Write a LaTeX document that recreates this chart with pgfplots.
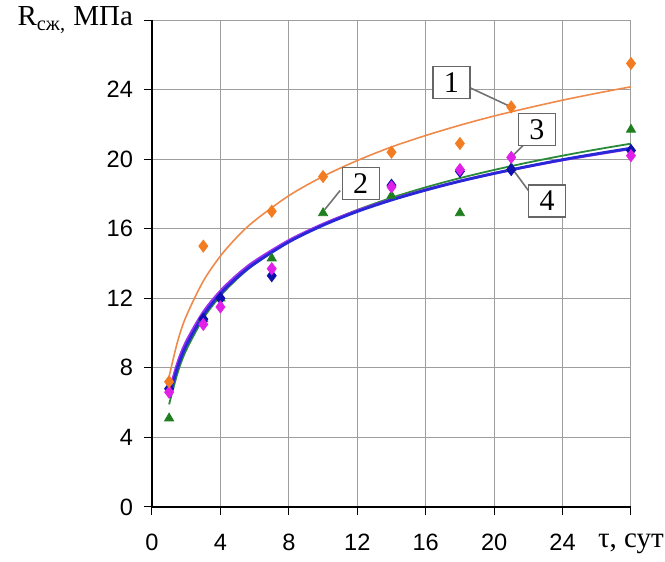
\documentclass[border=0pt]{standalone}
\usepackage{pgfplots}
\pgfplotsset{compat=1.18}
\usepackage{fontspec}
\setmainfont{Liberation Sans}
\newfontfamily\tms{Liberation Serif}
\definecolor{orngL}{HTML}{F08A4B}
\definecolor{orngM}{HTML}{F47C20}
\definecolor{grnL}{HTML}{2A8A3A}
\definecolor{grnM}{HTML}{1F7F1F}
\definecolor{magL}{HTML}{A030F0}
\definecolor{magM}{HTML}{E020E8}
\definecolor{bluL}{HTML}{2828D8}
\definecolor{bluM}{HTML}{1010B0}
\begin{document}
\begin{tikzpicture}
\useasboundingbox (-76pt,-27.5pt) rectangle (256.5pt,253.5pt);
\begin{axis}[
  scale only axis, width=239.5pt, height=243.5pt,
  xmin=0, xmax=28, ymin=0, ymax=28,
  xtick={0,4,...,28}, ytick={0,4,...,28},
  xticklabels={0,4,8,12,16,20,24,{\tms\fontsize{14.5}{16}\selectfont τ, сут}},
  yticklabels={0,4,8,12,16,20,24,{\tms\fontsize{14.5}{16}\selectfont R\textsubscript{сж,} МПа}},
  axis lines=left, axis line style={-, black, line width=0.6pt},
  grid=major, major grid style={black!38, line width=0.5pt},
  tick align=outside, major tick length=4pt,
  tick style={black, line width=0.5pt},
  ticklabel style={font=\fontsize{11.8}{13}\selectfont},
  xticklabel style={yshift=-6pt},
  yticklabel style={xshift=-2pt},
  clip=false,
]
% trend lines
\addplot[orngL, line width=0.8pt, smooth] coordinates {
 (1,7.5) (1.5,9.53) (2,10.97) (3,12.99) (4,14.43) (5,15.55) (6,16.46)
 (8,17.90) (10,19.01) (12,19.92) (14,20.70) (16,21.36) (18,21.95)
 (20,22.48) (22,22.95) (24,23.39) (26,23.79) (28,24.16)};
\addplot[grnL, line width=0.9pt, smooth] coordinates {
 (1,5.9) (1.5,7.72) (2,9.02) (3,10.84) (4,12.14) (5,13.14) (6,13.96)
 (8,15.26) (10,16.26) (12,17.08) (14,17.78) (16,18.38) (18,18.91)
 (20,19.38) (22,19.81) (24,20.20) (26,20.56) (28,20.89)};
\addplot[magL, line width=1.3pt, smooth] coordinates {
 (1,6.6) (1.5,8.30) (2,9.51) (3,11.21) (4,12.42) (5,13.36) (6,14.13)
 (8,15.33) (10,16.27) (12,17.04) (14,17.68) (16,18.24) (18,18.74)
 (20,19.18) (22,19.58) (24,19.95) (26,20.28) (28,20.60)};
\addplot[bluL, line width=1.4pt, smooth] coordinates {
 (1,6.3) (1.5,8.04) (2,9.28) (3,11.02) (4,12.26) (5,13.22) (6,14.00)
 (8,15.24) (10,16.20) (12,16.99) (14,17.65) (16,18.22) (18,18.73)
 (20,19.18) (22,19.59) (24,19.97) (26,20.31) (28,20.63)};
% measured points
\addplot[only marks, mark=triangle*, mark size=2.6pt, grnM] coordinates {
 (1,5.1) (3,10.8) (4,12.0) (7,14.3) (10,16.9) (14,17.9) (18,16.9) (21,19.5) (28,21.7)};
\addplot[only marks, mark=diamond*, mark size=3pt, bluM] coordinates {
 (1,6.8) (3,10.8) (4,12.0) (7,13.3) (14,18.5) (18,19.3) (21,19.4) (28,20.5)};
\addplot[only marks, mark=diamond*, mark size=3pt, magM] coordinates {
 (1,6.6) (3,10.5) (4,11.5) (7,13.7) (14,18.4) (18,19.4) (21,20.1) (28,20.2)};
\addplot[only marks, mark=diamond*, mark size=3pt, orngM] coordinates {
 (1,7.2) (3,15.0) (7,17.0) (10,19.0) (14,20.4) (18,20.9) (21,23.0) (28,25.5)};
% callouts
\draw[black!55, line width=0.8pt] (axis cs:18.6,24.1) -- (axis cs:21,23);
\draw[black!55, line width=0.8pt] (axis cs:11.0,18.2) -- (axis cs:10.1,17.1);
\draw[black!55, line width=0.8pt] (axis cs:21.7,20.8) -- (axis cs:21,20.1);
\draw[black!55, line width=0.8pt] (axis cs:22.0,18.2) -- (axis cs:21.1,19.4);
\tikzset{callout/.style={draw=black!60, fill=white, line width=0.7pt,
  font=\tms\fontsize{15}{16}\selectfont, minimum width=18.5pt,
  minimum height=16pt, inner sep=0.5pt}}
\node[callout] at (axis cs:17.5,24.4) {1};
\node[callout] at (axis cs:12.2,18.6) {2};
\node[callout] at (axis cs:22.5,21.7) {3};
\node[callout] at (axis cs:23.1,17.6) {4};
\end{axis}
\end{tikzpicture}
\end{document}
